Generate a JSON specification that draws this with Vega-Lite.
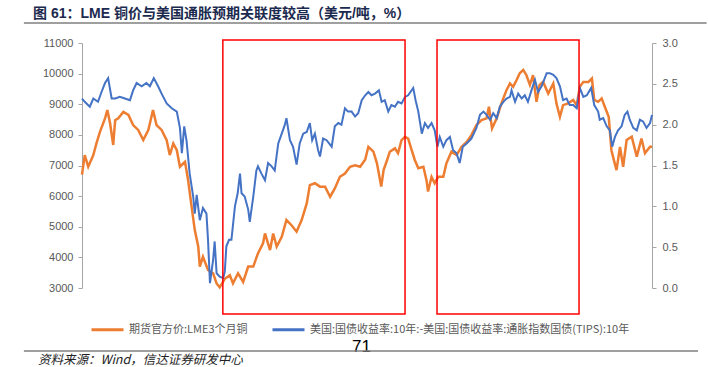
{
  "$schema": "https://vega.github.io/schema/vega-lite/v6.json",
  "width": 570,
  "height": 245,
  "autosize": {"type": "none"},
  "padding": {"left": 82, "top": 43, "right": 56, "bottom": 79},
  "background": "#ffffff",
  "config": {
    "view": {"stroke": null},
    "axis": {"labelFont": "Liberation Sans", "labelFontSize": 11, "labelColor": "#595959", "grid": false}
  },
  "title": {
    "text": "图 61：LME 铜价与美国通胀预期关联度较高（美元/吨，%）",
    "anchor": "start",
    "frame": "group",
    "dx": -49,
    "dy": 3,
    "font": "Liberation Sans, Noto Sans CJK SC",
    "fontSize": 14,
    "fontWeight": "bold",
    "color": "#1b2a4e"
  },
  "datasets": {
    "copper": [
      {"date": "2008-01-01", "value": 6700}, {"date": "2008-01-08", "value": 7340}, {"date": "2008-01-17", "value": 6960}, {"date": "2008-01-30", "value": 7340},
      {"date": "2008-02-07", "value": 7720}, {"date": "2008-02-16", "value": 8100}, {"date": "2008-02-29", "value": 8540}, {"date": "2008-03-06", "value": 8810},
      {"date": "2008-03-13", "value": 8380}, {"date": "2008-03-21", "value": 7670}, {"date": "2008-03-26", "value": 8480}, {"date": "2008-04-03", "value": 8540},
      {"date": "2008-04-16", "value": 8750}, {"date": "2008-04-29", "value": 8650}, {"date": "2008-05-11", "value": 8320}, {"date": "2008-05-24", "value": 8160},
      {"date": "2008-06-06", "value": 7830}, {"date": "2008-06-19", "value": 8160}, {"date": "2008-07-01", "value": 8810}, {"date": "2008-07-10", "value": 8320},
      {"date": "2008-07-23", "value": 8160}, {"date": "2008-08-05", "value": 7830}, {"date": "2008-08-13", "value": 7340}, {"date": "2008-08-22", "value": 7720},
      {"date": "2008-08-31", "value": 7500}, {"date": "2008-09-08", "value": 6960}, {"date": "2008-09-21", "value": 7120}, {"date": "2008-09-29", "value": 6520},
      {"date": "2008-10-08", "value": 5650}, {"date": "2008-10-16", "value": 4900}, {"date": "2008-10-25", "value": 4350}, {"date": "2008-10-29", "value": 3700},
      {"date": "2008-11-06", "value": 4020}, {"date": "2008-11-19", "value": 3590}, {"date": "2008-12-02", "value": 3480}, {"date": "2008-12-11", "value": 3150},
      {"date": "2008-12-19", "value": 3020}, {"date": "2009-01-01", "value": 3300}, {"date": "2009-01-14", "value": 3420}, {"date": "2009-01-22", "value": 3150},
      {"date": "2009-02-04", "value": 3480}, {"date": "2009-02-17", "value": 3200}, {"date": "2009-03-02", "value": 3700}, {"date": "2009-03-15", "value": 3700},
      {"date": "2009-03-27", "value": 4130}, {"date": "2009-04-09", "value": 4460}, {"date": "2009-04-14", "value": 4780}, {"date": "2009-04-27", "value": 4240},
      {"date": "2009-05-05", "value": 4780}, {"date": "2009-05-14", "value": 4350}, {"date": "2009-05-27", "value": 4670}, {"date": "2009-06-08", "value": 5220},
      {"date": "2009-06-21", "value": 5050}, {"date": "2009-07-04", "value": 4840}, {"date": "2009-07-17", "value": 5220}, {"date": "2009-07-30", "value": 5760},
      {"date": "2009-08-07", "value": 6360}, {"date": "2009-08-20", "value": 6420}, {"date": "2009-09-02", "value": 6310}, {"date": "2009-09-15", "value": 6310},
      {"date": "2009-09-28", "value": 5980}, {"date": "2009-10-10", "value": 6250}, {"date": "2009-10-23", "value": 6630}, {"date": "2009-11-05", "value": 6740},
      {"date": "2009-11-18", "value": 6960}, {"date": "2009-12-01", "value": 7010}, {"date": "2009-12-14", "value": 6960}, {"date": "2009-12-27", "value": 7200},
      {"date": "2010-01-04", "value": 7610}, {"date": "2010-01-17", "value": 7450}, {"date": "2010-01-26", "value": 7070}, {"date": "2010-02-06", "value": 6310},
      {"date": "2010-02-12", "value": 6850}, {"date": "2010-02-21", "value": 7180}, {"date": "2010-02-28", "value": 7450}, {"date": "2010-03-13", "value": 7560},
      {"date": "2010-03-21", "value": 7400}, {"date": "2010-03-30", "value": 7830}, {"date": "2010-04-08", "value": 7940}, {"date": "2010-04-16", "value": 7880},
      {"date": "2010-04-25", "value": 7500}, {"date": "2010-05-03", "value": 7180}, {"date": "2010-05-12", "value": 6910}, {"date": "2010-05-25", "value": 6960},
      {"date": "2010-06-02", "value": 6520}, {"date": "2010-06-06", "value": 6150}, {"date": "2010-06-15", "value": 6630}, {"date": "2010-06-23", "value": 6420},
      {"date": "2010-07-02", "value": 6630}, {"date": "2010-07-15", "value": 6630}, {"date": "2010-07-23", "value": 7070}, {"date": "2010-08-05", "value": 7450},
      {"date": "2010-08-18", "value": 7340}, {"date": "2010-08-31", "value": 7610}, {"date": "2010-09-13", "value": 7770}, {"date": "2010-09-25", "value": 7990},
      {"date": "2010-10-08", "value": 8320}, {"date": "2010-10-21", "value": 8480}, {"date": "2010-11-03", "value": 8540}, {"date": "2010-11-09", "value": 8920},
      {"date": "2010-11-17", "value": 8210}, {"date": "2010-11-29", "value": 8540}, {"date": "2010-12-11", "value": 9030}, {"date": "2010-12-24", "value": 9460},
      {"date": "2011-01-02", "value": 9680}, {"date": "2011-01-10", "value": 9570}, {"date": "2011-01-19", "value": 9790}, {"date": "2011-01-27", "value": 10010},
      {"date": "2011-02-05", "value": 10120}, {"date": "2011-02-13", "value": 9950}, {"date": "2011-02-22", "value": 9630}, {"date": "2011-03-02", "value": 9950},
      {"date": "2011-03-11", "value": 9080}, {"date": "2011-03-19", "value": 9630}, {"date": "2011-03-28", "value": 9730}, {"date": "2011-04-10", "value": 9350},
      {"date": "2011-04-23", "value": 9680}, {"date": "2011-05-01", "value": 9030}, {"date": "2011-05-10", "value": 8590}, {"date": "2011-05-18", "value": 8970},
      {"date": "2011-05-31", "value": 9030}, {"date": "2011-06-13", "value": 9140}, {"date": "2011-06-22", "value": 8970}, {"date": "2011-06-30", "value": 9570},
      {"date": "2011-07-09", "value": 9730}, {"date": "2011-07-22", "value": 9730}, {"date": "2011-07-31", "value": 9840}, {"date": "2011-08-06", "value": 9140},
      {"date": "2011-08-16", "value": 9080}, {"date": "2011-08-25", "value": 9190}, {"date": "2011-09-02", "value": 8920}, {"date": "2011-09-12", "value": 8590},
      {"date": "2011-09-19", "value": 7500}, {"date": "2011-09-23", "value": 7290}, {"date": "2011-10-02", "value": 6850}, {"date": "2011-10-11", "value": 7610},
      {"date": "2011-10-19", "value": 6960}, {"date": "2011-10-28", "value": 7830}, {"date": "2011-11-10", "value": 7940}, {"date": "2011-11-23", "value": 7290},
      {"date": "2011-12-05", "value": 7880}, {"date": "2011-12-14", "value": 7400}, {"date": "2011-12-27", "value": 7610}, {"date": "2012-01-01", "value": 7610}
    ],
    "tips": [
      {"date": "2008-01-01", "value": 2.32}, {"date": "2008-01-08", "value": 2.28}, {"date": "2008-01-21", "value": 2.22}, {"date": "2008-01-30", "value": 2.32},
      {"date": "2008-02-11", "value": 2.28}, {"date": "2008-02-20", "value": 2.40}, {"date": "2008-02-29", "value": 2.51}, {"date": "2008-03-08", "value": 2.57},
      {"date": "2008-03-17", "value": 2.32}, {"date": "2008-03-26", "value": 2.32}, {"date": "2008-04-07", "value": 2.34}, {"date": "2008-04-20", "value": 2.32},
      {"date": "2008-05-03", "value": 2.30}, {"date": "2008-05-11", "value": 2.42}, {"date": "2008-05-20", "value": 2.51}, {"date": "2008-06-02", "value": 2.47},
      {"date": "2008-06-14", "value": 2.51}, {"date": "2008-06-23", "value": 2.47}, {"date": "2008-07-03", "value": 2.57}, {"date": "2008-07-14", "value": 2.47},
      {"date": "2008-07-23", "value": 2.38}, {"date": "2008-08-05", "value": 2.26}, {"date": "2008-08-18", "value": 2.20}, {"date": "2008-08-31", "value": 2.16},
      {"date": "2008-09-08", "value": 1.96}, {"date": "2008-09-13", "value": 1.65}, {"date": "2008-09-19", "value": 1.98}, {"date": "2008-09-25", "value": 1.80},
      {"date": "2008-10-03", "value": 1.40}, {"date": "2008-10-12", "value": 1.12}, {"date": "2008-10-16", "value": 0.91}, {"date": "2008-10-21", "value": 1.14},
      {"date": "2008-10-29", "value": 0.83}, {"date": "2008-11-06", "value": 0.98}, {"date": "2008-11-15", "value": 0.91}, {"date": "2008-11-19", "value": 0.59},
      {"date": "2008-11-24", "value": 0.06}, {"date": "2008-12-02", "value": 0.34}, {"date": "2008-12-06", "value": 0.57}, {"date": "2008-12-11", "value": 0.18},
      {"date": "2008-12-19", "value": 0.14}, {"date": "2008-12-28", "value": 0.12}, {"date": "2009-01-01", "value": 0.20}, {"date": "2009-01-05", "value": 0.51},
      {"date": "2009-01-12", "value": 0.59}, {"date": "2009-01-18", "value": 0.59}, {"date": "2009-01-27", "value": 1.00}, {"date": "2009-02-03", "value": 1.16},
      {"date": "2009-02-09", "value": 1.40}, {"date": "2009-02-13", "value": 1.16}, {"date": "2009-02-21", "value": 1.12}, {"date": "2009-03-02", "value": 0.96},
      {"date": "2009-03-06", "value": 0.81}, {"date": "2009-03-15", "value": 1.12}, {"date": "2009-03-23", "value": 1.44}, {"date": "2009-03-27", "value": 1.49},
      {"date": "2009-04-05", "value": 1.40}, {"date": "2009-04-14", "value": 1.32}, {"date": "2009-04-22", "value": 1.53}, {"date": "2009-05-01", "value": 1.49},
      {"date": "2009-05-09", "value": 1.44}, {"date": "2009-05-18", "value": 1.77}, {"date": "2009-05-27", "value": 1.89}, {"date": "2009-06-04", "value": 2.00},
      {"date": "2009-06-08", "value": 2.08}, {"date": "2009-06-17", "value": 1.81}, {"date": "2009-06-25", "value": 1.73}, {"date": "2009-07-04", "value": 1.51},
      {"date": "2009-07-12", "value": 1.77}, {"date": "2009-07-21", "value": 1.89}, {"date": "2009-07-30", "value": 1.91}, {"date": "2009-08-07", "value": 2.02},
      {"date": "2009-08-13", "value": 1.81}, {"date": "2009-08-20", "value": 1.89}, {"date": "2009-08-28", "value": 1.69}, {"date": "2009-09-02", "value": 1.61},
      {"date": "2009-09-10", "value": 1.83}, {"date": "2009-09-19", "value": 1.81}, {"date": "2009-10-02", "value": 1.73}, {"date": "2009-10-10", "value": 1.98},
      {"date": "2009-10-19", "value": 2.02}, {"date": "2009-10-27", "value": 2.00}, {"date": "2009-11-05", "value": 2.20}, {"date": "2009-11-13", "value": 2.16},
      {"date": "2009-11-22", "value": 2.16}, {"date": "2009-12-01", "value": 2.10}, {"date": "2009-12-09", "value": 2.14}, {"date": "2009-12-18", "value": 2.30},
      {"date": "2009-12-27", "value": 2.36}, {"date": "2010-01-04", "value": 2.40}, {"date": "2010-01-12", "value": 2.36}, {"date": "2010-01-21", "value": 2.38},
      {"date": "2010-01-31", "value": 2.42}, {"date": "2010-02-07", "value": 2.28}, {"date": "2010-02-15", "value": 2.30}, {"date": "2010-02-24", "value": 2.16},
      {"date": "2010-03-04", "value": 2.24}, {"date": "2010-03-13", "value": 2.22}, {"date": "2010-03-21", "value": 2.28}, {"date": "2010-03-30", "value": 2.26},
      {"date": "2010-04-08", "value": 2.34}, {"date": "2010-04-16", "value": 2.36}, {"date": "2010-04-29", "value": 2.45}, {"date": "2010-05-05", "value": 2.30},
      {"date": "2010-05-12", "value": 2.16}, {"date": "2010-05-21", "value": 1.89}, {"date": "2010-05-29", "value": 2.02}, {"date": "2010-06-06", "value": 1.96},
      {"date": "2010-06-15", "value": 2.02}, {"date": "2010-06-23", "value": 1.93}, {"date": "2010-06-30", "value": 1.73}, {"date": "2010-07-06", "value": 1.85},
      {"date": "2010-07-15", "value": 1.73}, {"date": "2010-07-23", "value": 1.81}, {"date": "2010-08-01", "value": 1.85}, {"date": "2010-08-09", "value": 1.69},
      {"date": "2010-08-18", "value": 1.65}, {"date": "2010-08-26", "value": 1.53}, {"date": "2010-09-03", "value": 1.73}, {"date": "2010-09-13", "value": 1.77},
      {"date": "2010-09-25", "value": 1.83}, {"date": "2010-10-08", "value": 1.96}, {"date": "2010-10-17", "value": 2.12}, {"date": "2010-10-26", "value": 2.16},
      {"date": "2010-11-03", "value": 2.12}, {"date": "2010-11-12", "value": 2.06}, {"date": "2010-11-20", "value": 2.14}, {"date": "2010-11-29", "value": 2.08},
      {"date": "2010-12-07", "value": 2.22}, {"date": "2010-12-16", "value": 2.28}, {"date": "2010-12-24", "value": 2.32}, {"date": "2011-01-02", "value": 2.34},
      {"date": "2011-01-06", "value": 2.42}, {"date": "2011-01-15", "value": 2.28}, {"date": "2011-01-23", "value": 2.38}, {"date": "2011-02-01", "value": 2.32},
      {"date": "2011-02-09", "value": 2.36}, {"date": "2011-02-17", "value": 2.28}, {"date": "2011-02-26", "value": 2.42}, {"date": "2011-03-07", "value": 2.55},
      {"date": "2011-03-15", "value": 2.40}, {"date": "2011-03-24", "value": 2.47}, {"date": "2011-04-06", "value": 2.63}, {"date": "2011-04-14", "value": 2.63},
      {"date": "2011-04-23", "value": 2.61}, {"date": "2011-05-01", "value": 2.57}, {"date": "2011-05-10", "value": 2.47}, {"date": "2011-05-18", "value": 2.30},
      {"date": "2011-05-27", "value": 2.32}, {"date": "2011-06-04", "value": 2.24}, {"date": "2011-06-13", "value": 2.24}, {"date": "2011-06-22", "value": 2.20},
      {"date": "2011-06-30", "value": 2.45}, {"date": "2011-07-09", "value": 2.34}, {"date": "2011-07-18", "value": 2.36}, {"date": "2011-07-29", "value": 2.45},
      {"date": "2011-08-06", "value": 2.24}, {"date": "2011-08-16", "value": 2.16}, {"date": "2011-08-20", "value": 2.06}, {"date": "2011-08-29", "value": 2.08},
      {"date": "2011-09-07", "value": 1.98}, {"date": "2011-09-15", "value": 1.93}, {"date": "2011-09-21", "value": 1.73}, {"date": "2011-09-28", "value": 1.85},
      {"date": "2011-10-06", "value": 1.93}, {"date": "2011-10-15", "value": 1.98}, {"date": "2011-10-23", "value": 2.12}, {"date": "2011-10-30", "value": 2.16},
      {"date": "2011-11-05", "value": 2.06}, {"date": "2011-11-14", "value": 1.96}, {"date": "2011-11-23", "value": 1.93}, {"date": "2011-12-01", "value": 2.06},
      {"date": "2011-12-09", "value": 2.04}, {"date": "2011-12-18", "value": 1.96}, {"date": "2011-12-27", "value": 2.02}, {"date": "2012-01-01", "value": 2.12}
    ],
    "windows": [
      {"start": "2008-12-27", "end": "2010-04-08", "top": 11100, "bottom": 2150},
      {"start": "2010-06-29", "end": "2011-06-28", "top": 11100, "bottom": 2150}
    ],
    "separators": [
      {"start": "2007-08-05", "end": "2012-05-20", "top": 11650, "bottom": 11650},
      {"start": "2007-08-05", "end": "2012-04-28", "top": 945, "bottom": 945}
    ],
    "notes": [
      {"text": "资料来源：Wind，信达证券研发中心", "at": "2007-09-10", "level": 650}
    ]
  },
  "layer": [
    {
      "data": {"name": "copper"},
      "mark": {"type": "line", "strokeWidth": 2.5, "clip": false},
      "encoding": {
        "x": {
          "field": "date", "type": "temporal",
          "scale": {"type": "utc", "domain": [{"year": 2008, "month": 1, "date": 1, "utc": true}, {"year": 2012, "month": 1, "date": 1, "utc": true}]},
          "axis": {
            "values": [
              {"year": 2008, "month": 1, "date": 1, "utc": true}, {"year": 2008, "month": 7, "date": 1, "utc": true},
              {"year": 2009, "month": 1, "date": 1, "utc": true}, {"year": 2009, "month": 7, "date": 1, "utc": true},
              {"year": 2010, "month": 1, "date": 1, "utc": true}, {"year": 2010, "month": 7, "date": 1, "utc": true},
              {"year": 2011, "month": 1, "date": 1, "utc": true}, {"year": 2011, "month": 7, "date": 1, "utc": true},
              {"year": 2012, "month": 1, "date": 1, "utc": true}
            ],
            "format": "%Y-%m", "formatType": "utc",
            "domainColor": "#d9d9d9", "tickColor": "#d9d9d9", "tickSize": 4, "labelPadding": 3,
            "title": null
          }
        },
        "y": {
          "field": "value", "type": "quantitative",
          "scale": {"domain": [3000, 11000], "nice": false, "zero": false},
          "axis": {
            "orient": "left", "values": [3000, 4000, 5000, 6000, 7000, 8000, 9000, 10000, 11000], "format": "d",
            "domainColor": "#a6a6a6", "tickColor": "#a6a6a6", "tickSize": 4, "labelPadding": 5, "title": null
          }
        },
        "color": {
          "datum": "期货官方价:LME3个月铜", "type": "nominal",
          "scale": {"domain": ["期货官方价:LME3个月铜", "美国:国债收益率:10年:-美国:国债收益率:通胀指数国债(TIPS):10年"], "range": ["#ED7D31", "#4472C4"]},
          "legend": {
            "orient": "none", "legendX": 8, "legendY": 269, "direction": "horizontal", "title": null,
            "symbolType": "stroke", "symbolSize": 1024, "symbolStrokeWidth": 3, "labelLimit": 500,
            "labelFont": "Noto Sans CJK SC", "labelFontSize": 11, "labelColor": "#595959", "labelOffset": 4, "columnPadding": 18
          }
        }
      }
    },
    {
      "data": {"name": "tips"},
      "mark": {"type": "line", "strokeWidth": 2, "clip": false},
      "encoding": {
        "x": {
          "field": "date", "type": "temporal", "axis": null,
          "scale": {"type": "utc", "domain": [{"year": 2008, "month": 1, "date": 1, "utc": true}, {"year": 2012, "month": 1, "date": 1, "utc": true}]}
        },
        "y": {
          "field": "value", "type": "quantitative",
          "scale": {"domain": [0, 3], "nice": false},
          "axis": {
            "orient": "right", "values": [0, 0.5, 1, 1.5, 2, 2.5, 3], "format": ".1f",
            "domainColor": "#a6a6a6", "tickColor": "#a6a6a6", "tickSize": 4, "labelPadding": 6,
            "title": "71", "titleAngle": 0, "titleX": -291, "titleY": 308, "titleAlign": "center", "titleBaseline": "alphabetic",
            "titleFont": "Liberation Sans", "titleFontSize": 17, "titleFontWeight": "normal", "titleColor": "#000000"
          }
        },
        "color": {"datum": "美国:国债收益率:10年:-美国:国债收益率:通胀指数国债(TIPS):10年", "type": "nominal"}
      }
    },
    {
      "data": {"name": "windows"},
      "mark": {"type": "rect", "filled": false, "stroke": "#FF0000", "strokeWidth": 1.5, "clip": false},
      "encoding": {
        "x": {"field": "start", "type": "temporal", "axis": null,
          "scale": {"type": "utc", "domain": [{"year": 2008, "month": 1, "date": 1, "utc": true}, {"year": 2012, "month": 1, "date": 1, "utc": true}]}},
        "x2": {"field": "end"},
        "y": {"field": "top", "type": "quantitative", "axis": null, "scale": {"domain": [3000, 11000], "nice": false, "zero": false}},
        "y2": {"field": "bottom"}
      }
    },
    {
      "data": {"name": "separators"},
      "mark": {"type": "rect", "filled": false, "stroke": "#808080", "strokeWidth": 1.5, "clip": false},
      "encoding": {
        "x": {"field": "start", "type": "temporal", "axis": null,
          "scale": {"type": "utc", "domain": [{"year": 2008, "month": 1, "date": 1, "utc": true}, {"year": 2012, "month": 1, "date": 1, "utc": true}]}},
        "x2": {"field": "end"},
        "y": {"field": "top", "type": "quantitative", "axis": null, "scale": {"domain": [3000, 11000], "nice": false, "zero": false}},
        "y2": {"field": "bottom"}
      }
    },
    {
      "data": {"name": "notes"},
      "mark": {"type": "text", "align": "left", "baseline": "middle", "font": "Noto Sans CJK SC", "fontSize": 12.5, "fontStyle": "italic", "color": "#222222", "clip": false},
      "encoding": {
        "x": {"field": "at", "type": "temporal", "axis": null,
          "scale": {"type": "utc", "domain": [{"year": 2008, "month": 1, "date": 1, "utc": true}, {"year": 2012, "month": 1, "date": 1, "utc": true}]}},
        "y": {"field": "level", "type": "quantitative", "axis": null, "scale": {"domain": [3000, 11000], "nice": false, "zero": false}},
        "text": {"field": "text"}
      }
    }
  ],
  "resolve": {"scale": {"y": "independent"}}
}
